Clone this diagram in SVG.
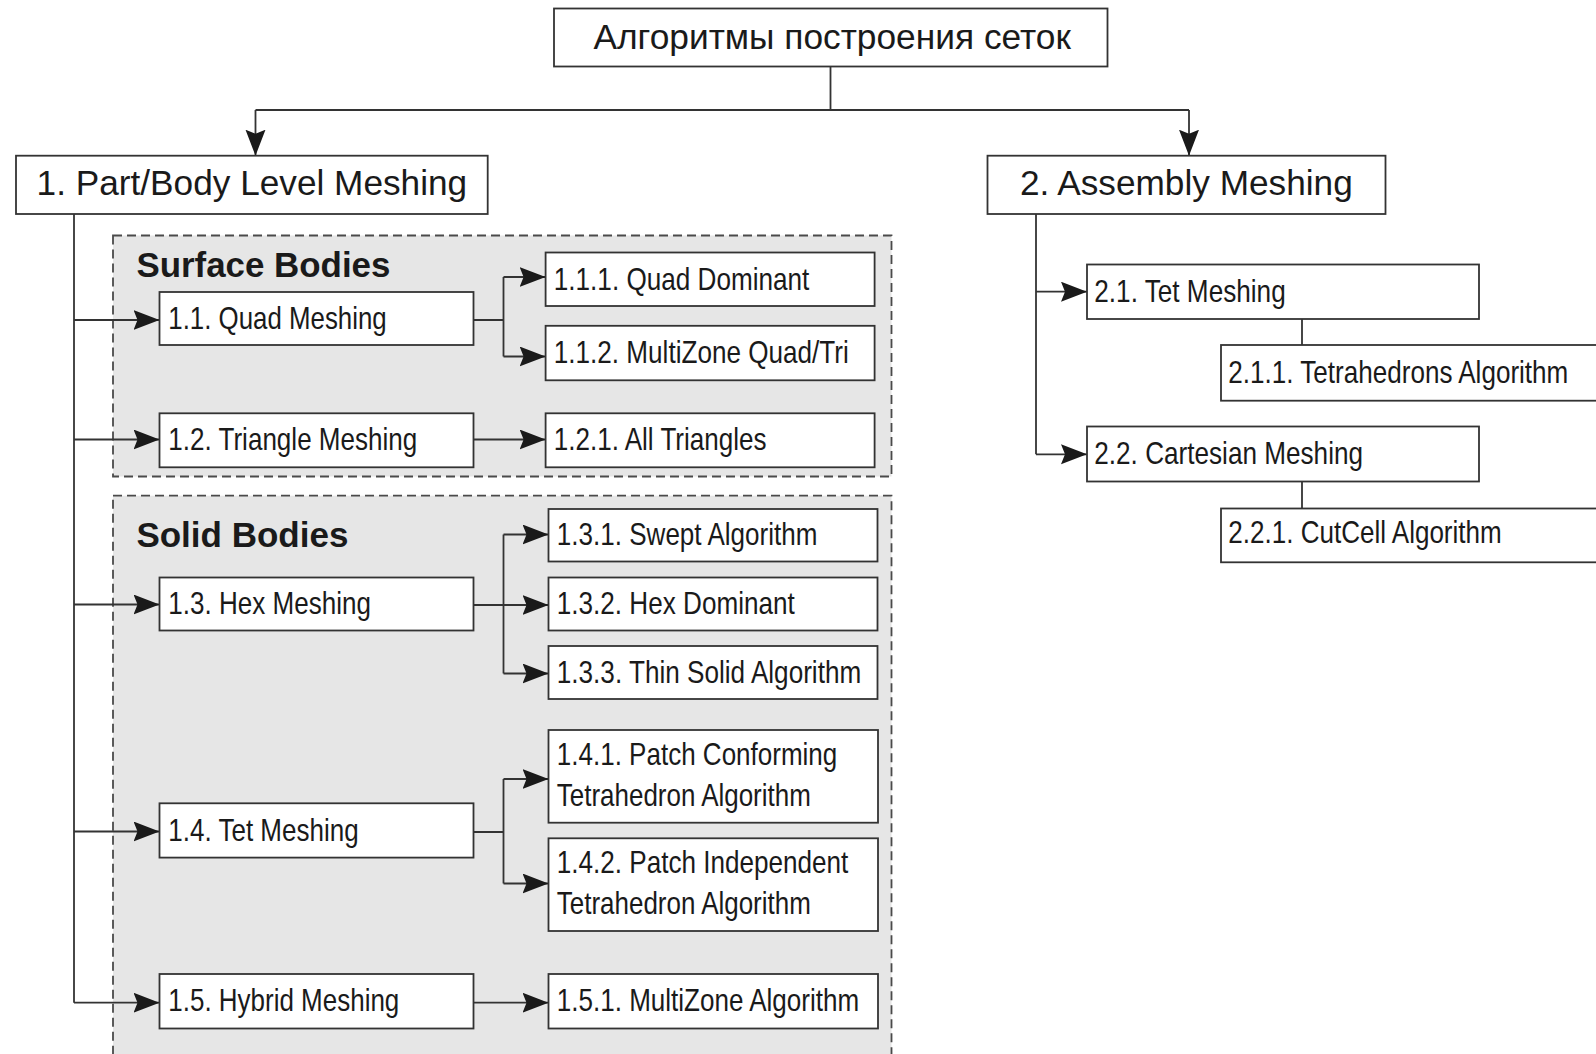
<svg xmlns="http://www.w3.org/2000/svg" width="1596" height="1054" viewBox="0 0 1596 1054">
  <defs>
    <style>
      .box { fill: #ffffff; stroke: #333333; stroke-width: 1.8; }
      .group { fill: #e6e6e6; stroke: #4a4a4a; stroke-width: 1.8; stroke-dasharray: 9 5; }
      .wire { fill: none; stroke: #333333; stroke-width: 1.8; }
      .arrow { marker-end: url(#head); }
      .t1 { font-family: "Liberation Sans", Arial, sans-serif; font-size: 35px; fill: #1a1a1a; }
      .t2 { font-family: "Liberation Sans", Arial, sans-serif; font-size: 32px; fill: #1a1a1a; }
      .grp { font-family: "Liberation Sans", Arial, sans-serif; font-size: 35px; font-weight: bold; fill: #1a1a1a; }
    </style>
    <marker id="head" markerUnits="userSpaceOnUse" markerWidth="28" markerHeight="22" refX="26" refY="10" orient="auto">
      <path d="M0,0 L26,10 L0,20 L4,10 Z" fill="#1a1a1a"/>
    </marker>
  </defs>

  <rect width="1596" height="1054" fill="#ffffff"/>

  <!-- grouping panels -->
  <g id="surface-bodies">
    <rect class="group" x="113" y="235.5" width="778.5" height="241"/>
    <text class="grp" x="136.4" y="276.5" textLength="254" lengthAdjust="spacingAndGlyphs">Surface Bodies</text>
  </g>
  <g id="solid-bodies">
    <rect class="group" x="113" y="495.7" width="778.5" height="600"/>
    <text class="grp" x="136.4" y="546.5" textLength="212" lengthAdjust="spacingAndGlyphs">Solid Bodies</text>
  </g>

  <!-- connectors -->
  <g id="connectors">
    <path class="wire" d="M830.5,66.5 V110 M255.5,110 H1189"/>
    <path class="wire arrow" d="M255.5,110 V155.7"/>
    <path class="wire arrow" d="M1189,110 V155.7"/>

    <path class="wire" d="M74,214 V1002.7"/>
    <path class="wire arrow" d="M74,320 H159.5"/>
    <path class="wire arrow" d="M74,439.5 H159.5"/>
    <path class="wire arrow" d="M74,604.5 H159.5"/>
    <path class="wire arrow" d="M74,831.5 H159.5"/>
    <path class="wire arrow" d="M74,1002.7 H159.5"/>

    <path class="wire" d="M473.3,320 H503.5 M503.5,277 V356.5"/>
    <path class="wire arrow" d="M503.5,277 H545.6"/>
    <path class="wire arrow" d="M503.5,356.5 H545.6"/>
    <path class="wire arrow" d="M473.3,439.5 H545.6"/>

    <path class="wire" d="M503.5,534.5 V673.5"/>
    <path class="wire arrow" d="M473.3,605 H548.5"/>
    <path class="wire arrow" d="M503.5,534.5 H548.5"/>
    <path class="wire arrow" d="M503.5,673.5 H548.5"/>

    <path class="wire" d="M473.3,832 H503.5 M503.5,779 V883.5"/>
    <path class="wire arrow" d="M503.5,779 H548.5"/>
    <path class="wire arrow" d="M503.5,883.5 H548.5"/>
    <path class="wire arrow" d="M473.3,1002.7 H548.5"/>

    <path class="wire" d="M1036,214 V454.3"/>
    <path class="wire arrow" d="M1036,291.7 H1087"/>
    <path class="wire arrow" d="M1036,454.3 H1087"/>
    <path class="wire" d="M1302,319 V345 M1302,481.5 V508.5"/>
  </g>

  <!-- nodes -->
  <g id="root">
    <rect class="box" x="554" y="8.5" width="553.5" height="58"/>
    <text class="t1" x="593.4" y="48.5" textLength="477.5" lengthAdjust="spacingAndGlyphs">Алгоритмы построения сеток</text>
  </g>
  <g id="n1">
    <rect class="box" x="16" y="155.7" width="471.7" height="58.3"/>
    <text class="t1" x="36.6" y="194.5" textLength="430.6" lengthAdjust="spacingAndGlyphs">1. Part/Body Level Meshing</text>
  </g>
  <g id="n2">
    <rect class="box" x="987.5" y="155.7" width="398" height="58.3"/>
    <text class="t1" x="1020" y="194.5" textLength="332.8" lengthAdjust="spacingAndGlyphs">2. Assembly Meshing</text>
  </g>

  <g id="n1-1">
    <rect class="box" x="159.5" y="292" width="314" height="53"/>
    <text class="t2" x="168.3" y="329" textLength="218.4" lengthAdjust="spacingAndGlyphs">1.1. Quad Meshing</text>
  </g>
  <g id="n1-1-1">
    <rect class="box" x="545.6" y="252.5" width="329" height="53.5"/>
    <text class="t2" x="553.8" y="289.5" textLength="255.5" lengthAdjust="spacingAndGlyphs">1.1.1. Quad Dominant</text>
  </g>
  <g id="n1-1-2">
    <rect class="box" x="545.6" y="325.8" width="329" height="54.5"/>
    <text class="t2" x="553.8" y="363" textLength="295" lengthAdjust="spacingAndGlyphs">1.1.2. MultiZone Quad/Tri</text>
  </g>
  <g id="n1-2">
    <rect class="box" x="159.5" y="413.3" width="314" height="54"/>
    <text class="t2" x="168.3" y="450" textLength="249" lengthAdjust="spacingAndGlyphs">1.2. Triangle Meshing</text>
  </g>
  <g id="n1-2-1">
    <rect class="box" x="545.6" y="413.3" width="329" height="54"/>
    <text class="t2" x="553.8" y="450" textLength="212.7" lengthAdjust="spacingAndGlyphs">1.2.1. All Triangles</text>
  </g>

  <g id="n1-3">
    <rect class="box" x="159.5" y="577.5" width="314" height="53"/>
    <text class="t2" x="168.3" y="614" textLength="202.6" lengthAdjust="spacingAndGlyphs">1.3. Hex Meshing</text>
  </g>
  <g id="n1-3-1">
    <rect class="box" x="548.5" y="509" width="329" height="52.5"/>
    <text class="t2" x="556.8" y="545" textLength="260.6" lengthAdjust="spacingAndGlyphs">1.3.1. Swept Algorithm</text>
  </g>
  <g id="n1-3-2">
    <rect class="box" x="548.5" y="577.5" width="329" height="53"/>
    <text class="t2" x="556.8" y="614" textLength="238" lengthAdjust="spacingAndGlyphs">1.3.2. Hex Dominant</text>
  </g>
  <g id="n1-3-3">
    <rect class="box" x="548.5" y="646" width="329" height="53"/>
    <text class="t2" x="556.8" y="682.5" textLength="304.4" lengthAdjust="spacingAndGlyphs">1.3.3. Thin Solid Algorithm</text>
  </g>

  <g id="n1-4">
    <rect class="box" x="159.5" y="803.3" width="314" height="54.3"/>
    <text class="t2" x="168.3" y="840.5" textLength="190.4" lengthAdjust="spacingAndGlyphs">1.4. Tet Meshing</text>
  </g>
  <g id="n1-4-1">
    <rect class="box" x="548.5" y="730" width="329.5" height="92.7"/>
    <text class="t2" x="556.8" y="765" textLength="280.5" lengthAdjust="spacingAndGlyphs">1.4.1. Patch Conforming</text>
    <text class="t2" x="556.8" y="805.5" textLength="254" lengthAdjust="spacingAndGlyphs">Tetrahedron Algorithm</text>
  </g>
  <g id="n1-4-2">
    <rect class="box" x="548.5" y="838.3" width="329.5" height="92.7"/>
    <text class="t2" x="556.8" y="872.5" textLength="291.5" lengthAdjust="spacingAndGlyphs">1.4.2. Patch Independent</text>
    <text class="t2" x="556.8" y="913.5" textLength="254" lengthAdjust="spacingAndGlyphs">Tetrahedron Algorithm</text>
  </g>

  <g id="n1-5">
    <rect class="box" x="159.5" y="974" width="314" height="54.5"/>
    <text class="t2" x="168.3" y="1011" textLength="231" lengthAdjust="spacingAndGlyphs">1.5. Hybrid Meshing</text>
  </g>
  <g id="n1-5-1">
    <rect class="box" x="548.5" y="974" width="329.5" height="54.5"/>
    <text class="t2" x="556.8" y="1011" textLength="302.3" lengthAdjust="spacingAndGlyphs">1.5.1. MultiZone Algorithm</text>
  </g>

  <g id="n2-1">
    <rect class="box" x="1087" y="264.5" width="392" height="54.5"/>
    <text class="t2" x="1094.3" y="301.5" textLength="191.4" lengthAdjust="spacingAndGlyphs">2.1. Tet Meshing</text>
  </g>
  <g id="n2-1-1">
    <rect class="box" x="1221" y="345" width="380" height="55.7"/>
    <text class="t2" x="1228.3" y="382.5" textLength="340" lengthAdjust="spacingAndGlyphs">2.1.1. Tetrahedrons Algorithm</text>
  </g>
  <g id="n2-2">
    <rect class="box" x="1087" y="426.5" width="392" height="55"/>
    <text class="t2" x="1094.3" y="464" textLength="268.7" lengthAdjust="spacingAndGlyphs">2.2. Cartesian Meshing</text>
  </g>
  <g id="n2-2-1">
    <rect class="box" x="1221" y="508.5" width="380" height="53.8"/>
    <text class="t2" x="1228.3" y="543" textLength="273.4" lengthAdjust="spacingAndGlyphs">2.2.1. CutCell Algorithm</text>
  </g>
</svg>
